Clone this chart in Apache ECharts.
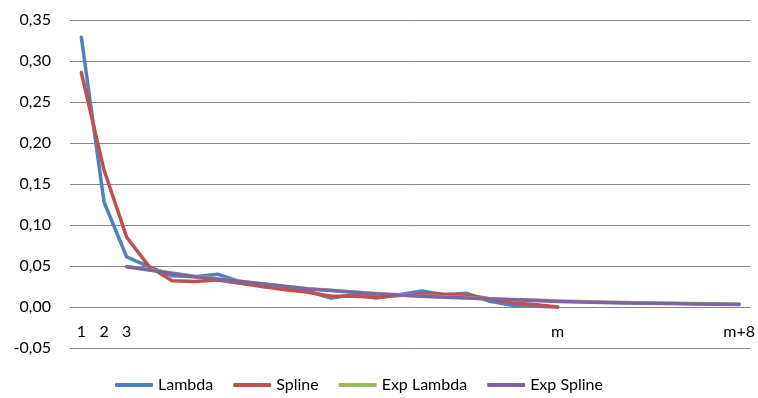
<!DOCTYPE html>
<html>
<head>
<meta charset="utf-8">
<script src="https://cdn.jsdelivr.net/npm/echarts@6/dist/echarts.min.js"></script>
<style>
  html, body { margin: 0; padding: 0; background: #fff; }
  #chart { width: 758px; height: 398px; }
</style>
</head>
<body>
<div id="chart"></div>
<script>
// Category positions 1..m (m = 22), then m+1..m+8
const categories = ['1','2','3','','','','','','','','','','','','','','','','','','','m','','','','','','','','m+8'];

const lambda = [0.329, 0.128, 0.061, 0.049, 0.038, 0.037, 0.040, 0.031, 0.025, 0.023, 0.019, 0.011,
  0.015, 0.011, 0.015, 0.0195, 0.015, 0.0167, 0.007, 0.002, 0.001, 0.000,
  null, null, null, null, null, null, null, null];

const spline = [0.286, 0.167, 0.085, 0.049, 0.032, 0.031, 0.033, 0.029, 0.025, 0.021, 0.018, 0.013,
  0.013, 0.012, 0.014, 0.016, 0.0155, 0.0146, 0.010, 0.005, 0.003, 0.000,
  null, null, null, null, null, null, null, null];

const expLambda = [null, null, 0.0494, 0.0454, 0.0414, 0.0374, 0.0344, 0.0314, 0.0284, 0.0254, 0.0224, 0.0204,
  0.0184, 0.0164, 0.0149, 0.0134, 0.0124, 0.0114, 0.0102, 0.0092, 0.0084, 0.0072,
  0.0066, 0.0060, 0.0054, 0.0050, 0.0046, 0.0042, 0.0039, 0.0036];

const expSpline = [null, null, 0.049, 0.045, 0.041, 0.037, 0.034, 0.031, 0.028, 0.025, 0.022, 0.020,
  0.018, 0.016, 0.0145, 0.013, 0.012, 0.011, 0.0098, 0.0088, 0.008, 0.0068,
  0.0062, 0.0056, 0.0050, 0.0046, 0.0042, 0.0038, 0.0035, 0.0032];

const seriesNames = ['Lambda', 'Spline', 'Exp Lambda', 'Exp Spline'];
const seriesColors = ['#4F81BD', '#C0504D', '#9BBB59', '#8064A2'];
const seriesData = [lambda, spline, expLambda, expSpline];

const yTicks = { min: -0.05, max: 0.35, step: 0.05 };

const font = 'Lato, "Open Sans", sans-serif';
const chart = echarts.init(document.getElementById('chart'), null, { renderer: 'canvas' });

chart.setOption({
  animation: false,
  backgroundColor: '#ffffff',
  grid: { left: 70, right: 7, top: 20, bottom: 50 },
  legend: {
    left: 115,
    top: 377,
    padding: 0,
    itemWidth: 38,
    itemHeight: 4,
    itemGap: 20,
    icon: 'roundRect',
    textStyle: { fontFamily: font, fontSize: 16, color: '#000' },
    data: seriesNames
  },
  xAxis: {
    type: 'category',
    data: categories,
    boundaryGap: true,
    position: 'bottom',
    axisLine: { show: false, onZero: false },
    axisTick: { show: false },
    // labels sit between the zero line and the bottom gridline
    axisLabel: { interval: 0, margin: -24, fontFamily: font, fontSize: 16, color: '#000' },
    splitLine: { show: false }
  },
  yAxis: {
    type: 'value',
    min: yTicks.min,
    max: yTicks.max,
    interval: yTicks.step,
    axisLine: { show: false },
    axisTick: { show: false },
    axisLabel: {
      margin: 19,
      fontFamily: font,
      fontSize: 16,
      color: '#000',
      formatter: v => v.toFixed(2).replace('.', ',')
    },
    splitLine: { show: true, lineStyle: { color: '#868686', width: 1 } }
  },
  series: seriesNames.map((name, i) => ({
    name,
    type: 'line',
    data: seriesData[i],
    showSymbol: false,
    symbol: 'none',
    connectNulls: false,
    lineStyle: { color: seriesColors[i], width: 3.5, cap: 'round', join: 'round' },
    itemStyle: { color: seriesColors[i] }
  }))
});
</script>
</body>
</html>
